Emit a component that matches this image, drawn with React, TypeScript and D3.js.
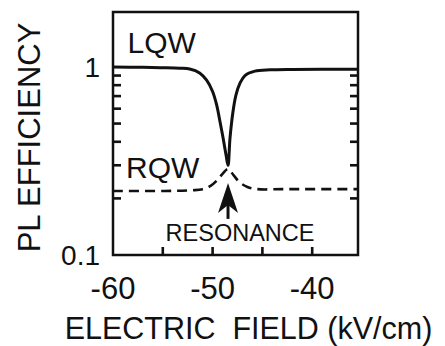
import React from "react";
import * as d3 from "d3";

// Electric field (kV/cm) and PL efficiency for the two quantum wells
const lqwField = [-60, -57, -55, -53.3, -52.3, -51.3, -50.6, -50, -49.6, -49.25, -48.95, -48.65, -48.45, -48.25, -47.95, -47.65, -47.25, -46.75, -45.75, -44.2, -42, -39, -35.4];
const lqwEff = [1.0, 0.995, 0.99, 0.984, 0.976, 0.93, 0.85, 0.74, 0.63, 0.51, 0.42, 0.34, 0.3, 0.42, 0.58, 0.71, 0.82, 0.9, 0.95, 0.965, 0.97, 0.972, 0.972];

const rqwField = [-60, -55, -52, -51, -50.2, -49.5, -49, -48.45, -47.9, -47.3, -46.5, -45.5, -43, -40, -35.4];
const rqwEff = [0.219, 0.219, 0.221, 0.224, 0.233, 0.251, 0.27, 0.287, 0.266, 0.244, 0.23, 0.224, 0.224, 0.224, 0.224];

const resonanceField = -48.45;

const xTickLabels = [-60, -50, -40];
const xMinorTicks = [-55, -50, -45, -40];
const yTickLabels = [0.1, 1];
const yMinorTicks = [0.2, 0.3, 0.4, 0.5, 0.6, 0.7, 0.8, 0.9];

const W = 445;
const H = 346;
const left = 113, right = 358, top = 12, bottom = 255;
const font = "'Liberation Sans', Arial, Helvetica, sans-serif";
const ink = "#111";

export default function App() {
  const x = d3.scaleLinear().domain([-60, -35.4]).range([left, right]);
  const y = d3.scaleLog().domain([0.1, 1.96]).range([bottom, top]);

  const line = d3
    .line<[number, number]>()
    .x((d) => x(d[0]))
    .y((d) => y(d[1]))
    .curve(d3.curveCatmullRom.alpha(0.5));

  const lqw = lqwField.map((f, i) => [f, lqwEff[i]] as [number, number]);
  const rqw = rqwField.map((f, i) => [f, rqwEff[i]] as [number, number]);

  const peak = d3.max(rqwEff) as number;
  const ax = x(resonanceField);
  const tipY = y(peak) + 14;
  const tickLen = 8;
  const tickW = 2.6;

  return (
    <svg
      width={W}
      height={H}
      style={{ position: "absolute", left: 0, top: 0, background: "#fff" }}
      fontFamily={font}
    >
      <defs>
        <clipPath id="plot">
          <rect x={left} y={top} width={right - left} height={bottom - top} />
        </clipPath>
      </defs>

      <g clipPath="url(#plot)" fill="none">
        <path d={line(lqw) ?? ""} stroke={ink} strokeWidth={3} />
        <path d={line(rqw) ?? ""} stroke={ink} strokeWidth={2.6} strokeDasharray="10,6" />
      </g>

      {/* minor ticks, pointing inward on left, right and bottom */}
      {yMinorTicks.map((v) => (
        <rect key={"l" + v} x={left} y={y(v) - tickW / 2} width={tickLen} height={tickW} fill={ink} />
      ))}
      {yMinorTicks.map((v) => (
        <rect key={"r" + v} x={right - tickLen} y={y(v) - tickW / 2} width={tickLen} height={tickW} fill={ink} />
      ))}
      {xMinorTicks.map((v) => (
        <rect key={"b" + v} x={x(v) - tickW / 2} y={bottom - tickLen} width={tickW} height={tickLen} fill={ink} />
      ))}

      <rect x={left} y={top} width={right - left} height={bottom - top} fill="none" stroke={ink} strokeWidth={2.5} />

      {/* y tick labels */}
      {yTickLabels.map((v) => (
        <text key={v} x={100} y={y(v)} dy="0.35em" textAnchor="end" fontSize={28} fill={ink}>
          {String(v)}
        </text>
      ))}

      {/* x tick labels */}
      {xTickLabels.map((v) => (
        <text key={v} x={x(v)} y={299} textAnchor="middle" fontSize={31} fill={ink}>
          {String(v)}
        </text>
      ))}

      <text x={127.5} y={53} fontSize={30} fill={ink}>LQW</text>
      <text x={126} y={178} fontSize={30} fill={ink}>RQW</text>

      {/* resonance arrow */}
      <line x1={ax} x2={ax} y1={tipY + 20} y2={tipY + 36} stroke={ink} strokeWidth={3} />
      <path
        d={`M${ax},${tipY} L${ax + 10},${tipY + 30} L${ax},${tipY + 22} L${ax - 10},${tipY + 30} Z`}
        fill={ink}
      />
      <text x={240} y={240.5} textAnchor="middle" fontSize={23.5} fill={ink}>RESONANCE</text>

      <text
        transform="translate(40,137.5) rotate(-90)"
        textAnchor="middle"
        fontSize={31}
        fill={ink}
      >
        PL EFFICIENCY
      </text>
      <text x={248.5} y={339} textAnchor="middle" fontSize={30.5} fill={ink} xmlSpace="preserve">
        ELECTRIC  FIELD (kV/cm)
      </text>
    </svg>
  );
}
